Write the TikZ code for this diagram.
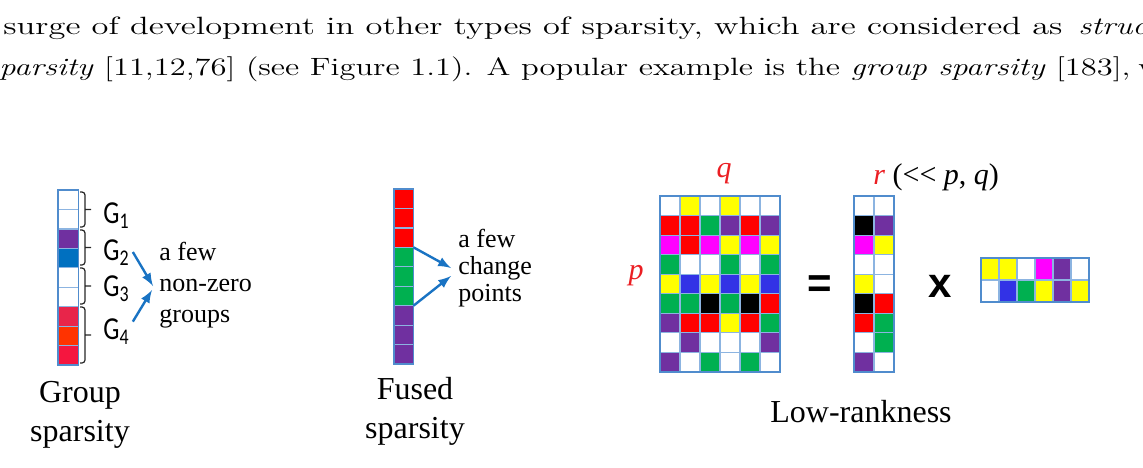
\documentclass[tikz,border=0pt]{standalone}
\usepackage{fontspec}
\usepackage{graphicx}
\usetikzlibrary{arrows}
\newfontfamily\diagfont{Liberation Serif}
\newfontfamily\labfont{Carlito}
\newfontfamily\signfont{Liberation Sans}

\definecolor{cellline}{RGB}{140,180,225}
\definecolor{boxline}{RGB}{80,140,205}
\definecolor{arrblue}{RGB}{25,115,195}
\definecolor{labred}{RGB}{235,30,35}
\definecolor{cw}{RGB}{255,255,255}
\definecolor{cy}{RGB}{255,255,0}
\definecolor{cr}{RGB}{255,0,0}
\definecolor{cg}{RGB}{0,176,80}
\definecolor{cp}{RGB}{112,48,160}
\definecolor{cm}{RGB}{255,0,255}
\definecolor{cb}{RGB}{50,50,230}
\definecolor{ck}{RGB}{0,0,0}
\definecolor{gblue}{RGB}{0,112,192}
\definecolor{gcrim}{RGB}{232,37,74}
\definecolor{gorange}{RGB}{255,51,0}
\definecolor{gred}{RGB}{245,22,63}

\newcommand{\grp}[1]{\scalebox{0.8}[1]{G\textsubscript{#1}}}

\begin{document}
\begin{tikzpicture}[
        x=0.5pt, y=-0.5pt,
        body/.style={anchor=base west, inner sep=0, font=\fontsize{12.5}{15}\selectfont},
        cell/.style={draw=cellline, line width=0.6pt, inner sep=0, outer sep=0, anchor=north west},
        frame/.style={draw=boxline, line width=0.7pt},
        note/.style={inner sep=0, align=left, anchor=west, font=\diagfont\fontsize{13}{#1}\selectfont},
        note/.default=15.5,
        tag/.style={inner sep=0, align=center, font=\diagfont\fontsize{16}{19.5}\selectfont},
        glab/.style={inner sep=0, anchor=west, font=\labfont\fontsize{16}{16}\selectfont},
        dimlab/.style={inner sep=0, anchor=base, text=labred, font=\diagfont\itshape\fontsize{15}{15}\selectfont},
        sign/.style={inner sep=0, font=\signfont\bfseries\fontsize{21}{21}\selectfont},
        brak/.style={draw=black!85, line width=0.6pt, rounded corners=1.5pt},
        pointer/.style={-latex, line width=1.2pt, draw=arrblue}
    ]
        \useasboundingbox (0,0) rectangle (1143,467);
        \clip (0,0) rectangle (1143,467);

        \node[body] (line1) at (3,34) {\resizebox{529.5pt}{\height}{surge of development in other types of sparsity, which are considered as}};
        \node[body] (line1end) at (1078,34) {\scalebox{1.3}[1]{\textit{structured}}};
        \node[body] (line2) at (-14,75) {\resizebox{572pt}{\height}{\textit{sparsity} [11,12,76] (see Figure 1.1). A popular example is the \textit{group sparsity} [183],}};
        \node[body] (line2end) at (1138,75) {\scalebox{1.3}[1]{which}};

        \foreach \c [count=\i] in {cw,cw,cp,gblue,cw,cw,gcrim,gorange,gred}
            \node[cell, minimum width=10.25pt, minimum height=9.72pt, fill=\c] (gs\i) at (58,{190+(\i-1)*19.45}) {};
        \draw[frame] (gs1.north west) rectangle (gs9.south east);
        \foreach \t/\b in {192/227,230/265,268/304,307/363}
            \draw[brak] (80,\t) -- (85,\t) -- (85,\b) -- (80,\b) (85,{(\t+\b)/2}) -- (91,{(\t+\b)/2});

        \node[glab] (g1) at (103,216) {\grp{1}};
        \node[glab] (g2) at (103,253) {\grp{2}};
        \node[glab] (g3) at (103,289) {\grp{3}};
        \node[glab] (g4) at (103,332) {\grp{4}};
        \node[note] (gnote) at (159,285) {a few\\non-zero\\groups};
        \draw[pointer] ([shift={(3,-1)}]g2.east) -- ([shift={(-6,1)}]gnote.west);
        \draw[pointer] ([shift={(3,3)}]g4.north east) -- ([shift={(-7,5)}]gnote.west);

        \foreach \c [count=\i] in {cr,cr,cr,cg,cg,cg,cp,cp,cp}
            \node[cell, minimum width=9.75pt, minimum height=9.72pt, fill=\c] (fs\i) at (394,{189+(\i-1)*19.45}) {};
        \draw[frame] (fs1.north west) rectangle (fs9.south east);
        \node[note=13.5] (fnote) at (458,268) {a few\\change\\points};
        \draw[pointer] (fs3.south east) -- ([shift={(-7,0)}]fnote.west);
        \draw[pointer] (fs6.south east) -- ([shift={(-7,8)}]fnote.west);

        \foreach \row [count=\i] in {{cw,cy,cw,cy,cw,cw},{cr,cr,cg,cp,cr,cp},{cm,cr,cm,cy,cm,cy},{cg,cw,cw,cg,cw,cg},{cy,cb,cy,cb,cy,cb},{cg,cg,ck,cg,ck,cr},{cp,cr,cr,cy,cr,cg},{cw,cp,cw,cw,cw,cp},{cp,cw,cg,cw,cg,cw}}
            \foreach \c [count=\j] in \row
                \node[cell, minimum width=10pt, minimum height=9.78pt, fill=\c] (a-\i-\j) at ({660+(\j-1)*20},{196+(\i-1)*19.55}) {};
        \draw[frame] (a-1-1.north west) rectangle (a-9-6.south east);

        \foreach \row [count=\i] in {{cw,cw},{ck,cp},{cm,cy},{cw,cw},{cy,cw},{ck,cr},{cr,cg},{cw,cg},{cp,cw}}
            \foreach \c [count=\j] in \row
                \node[cell, minimum width=10pt, minimum height=9.78pt, fill=\c] (b-\i-\j) at ({854+(\j-1)*20},{196+(\i-1)*19.55}) {};
        \draw[frame] (b-1-1.north west) rectangle (b-9-2.south east);

        \foreach \row [count=\i] in {{cy,cy,cw,cm,cp,cw},{cw,cb,cg,cy,cp,cy}}
            \foreach \c [count=\j] in \row
                \node[cell, minimum width=9pt, minimum height=11pt, fill=\c] (c-\i-\j) at ({981+(\j-1)*18},{258+(\i-1)*22}) {};
        \draw[frame] (c-1-1.north west) rectangle (c-2-6.south east);

        \node[dimlab] (qlab) at (724,177) {q};
        \node[dimlab] (plab) at (636,279) {p};
        \node[dimlab, anchor=base west] (rlab) at (873,184) {r \textcolor{black}{\upshape(<{}< \textit{p}, \textit{q})}};
        \node[sign] (eq) at (820,287) {=};
        \node[sign] (times) at (940,286) {x};

        \node[tag] (gcap) at (80,415) {Group\\sparsity};
        \node[tag] (fcap) at (415,411) {Fused\\sparsity};
        \node[tag] (lcap) at (861,412) {Low-rankness};

    \end{tikzpicture}
\end{document}
